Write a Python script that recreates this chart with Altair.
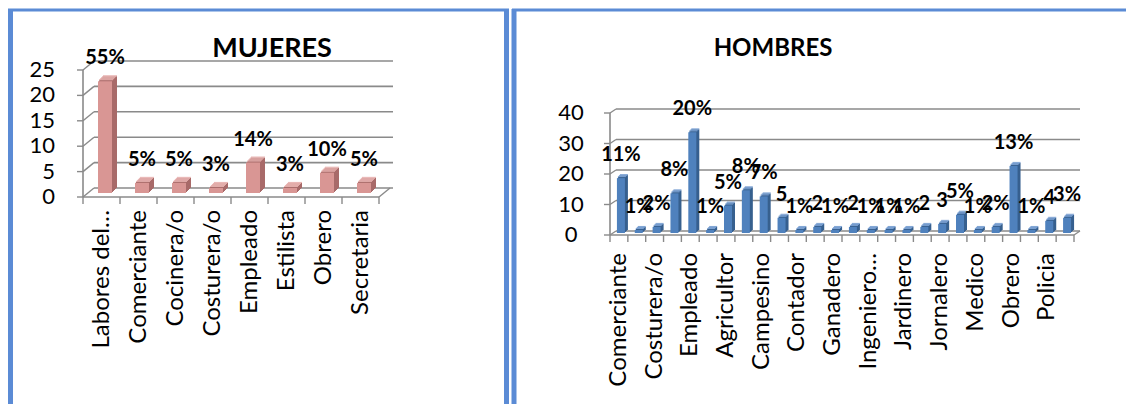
import altair as alt
import pandas as pd

# ---------------- data ----------------
titulos = ["MUJERES", "HOMBRES"]

cat_m = ["Labores del…", "Comerciante", "Cocinera/o", "Costurera/o",
         "Empleado", "Estilista", "Obrero", "Secretaria"]
val_m = [22, 2, 2, 1, 6, 1, 4, 2]
lab_m = ["55%", "5%", "5%", "3%", "14%", "3%", "10%", "5%"]
ticks_m = [0, 5, 10, 15, 20, 25]

cat_h = ["Comerciante", "Cocinero", "Costurera/o", "Docente", "Empleado", "Estilista",
         "Agricultor", "Albañil", "Campesino", "Conductor", "Contador", "Electricista",
         "Ganadero", "Guardia", "Ingeniero…", "Ingeniero civil", "Jardinero", "Jefe",
         "Jornalero", "Mecanico", "Medico", "Militar", "Obrero", "Pintor", "Policia", "Profesor"]
val_h = [18, 1, 2, 13, 33, 1, 9, 14, 12, 5, 1, 2, 1, 2, 1, 1, 1, 2, 3, 6, 1, 2, 22, 1, 4, 5]
lab_h = ["11%", "1%", "2%", "8%", "20%", "1%", "5%", "8%", "7%", "5", "1%", "2", "1%", "2",
         "1%", "1%", "1%", "2", "3", "5%", "1%", "2%", "13%", "1%", "4", "3%"]
ticks_h = [0, 10, 20, 30, 40]

FONT = "Lato"
GRID = "#8a8a8a"
BORDER = "#5b8bd5"


def panel(cats, vals, labs, ticks, xr, yr, ymax, geo):
    df = pd.DataFrame({"cat": cats, "val": vals, "lab": labs,
                       "idx": list(range(len(cats))), "z": [0] * len(cats)})
    dt = pd.DataFrame({"v": ticks, "z": [0] * len(ticks)})
    da = pd.DataFrame({"a": [0], "b": [ymax]})
    xs = alt.Scale(domain=cats, range=xr, paddingInner=0, paddingOuter=0)
    ys = alt.Scale(domain=[0, ymax], range=yr, nice=False)
    ax0, ax1 = xr
    dx, dy = geo["dx"], geo["dy"]
    layers = []
    # back wall gridlines
    layers.append(alt.Chart(dt).mark_rule(color=GRID, strokeWidth=1.6, yOffset=-dy).encode(
        y=alt.Y("v:Q", scale=ys, axis=None),
        x=alt.value(ax0 + dx), x2=alt.value(geo["back_right"])))
    # side wall diagonals
    layers.append(alt.Chart(dt).mark_rule(color=GRID, strokeWidth=1.4, y2Offset=-dy).encode(
        y=alt.Y("v:Q", scale=ys, axis=None), y2="v:Q",
        x=alt.value(ax0), x2=alt.value(ax0 + dx)))
    # floor right edge
    layers.append(alt.Chart(da).mark_rule(color=GRID, strokeWidth=1.4, y2Offset=-dy).encode(
        y=alt.Y("a:Q", scale=ys, axis=None), y2="a:Q",
        x=alt.value(ax1), x2=alt.value(ax1 + dx)))
    # front y axis line
    layers.append(alt.Chart(da).mark_rule(color=GRID, strokeWidth=1.6).encode(
        y=alt.Y("a:Q", scale=ys, axis=None), y2="b:Q", x=alt.value(ax0)))
    # front x axis line
    layers.append(alt.Chart(da).mark_rule(color=GRID, strokeWidth=1.6).encode(
        y=alt.Y("a:Q", scale=ys, axis=None), x=alt.value(ax0), x2=alt.value(ax1)))
    # y tick marks
    layers.append(alt.Chart(dt).mark_rule(color=GRID, strokeWidth=1.4).encode(
        y=alt.Y("v:Q", scale=ys, axis=None), x=alt.value(ax0 - 6), x2=alt.value(ax0)))
    # x tick marks
    layers.append(alt.Chart(df).mark_rule(color=GRID, strokeWidth=1.4, y2Offset=geo["tick"]).encode(
        x=alt.X("cat:N", scale=xs, axis=None, bandPosition=0),
        y=alt.Y("z:Q", scale=ys, axis=None), y2="z:Q"))
    layers.append(alt.Chart(df).transform_filter(f"datum.idx == {len(cats) - 1}").mark_rule(
        color=GRID, strokeWidth=1.4, y2Offset=geo["tick"]).encode(
        x=alt.X("cat:N", scale=xs, axis=None, bandPosition=1),
        y=alt.Y("z:Q", scale=ys, axis=None), y2="z:Q"))
    # 3D bars: side / top faces
    bx, by, bw, d = geo["bx"], geo["by"], geo["bw"], geo["d"]
    for k in range(d, 0, -1):
        layers.append(alt.Chart(df).mark_bar(
            width=bw, color=geo["side"], xOffset=bx + k, yOffset=by - k, y2Offset=by - k).encode(
            x=alt.X("cat:N", scale=xs, axis=None),
            y=alt.Y("val:Q", scale=ys, axis=None), y2="z:Q"))
        layers.append(alt.Chart(df).mark_bar(
            width=bw, color=geo["top"], xOffset=bx + k, yOffset=by - k - 1, y2Offset=by - k).encode(
            x=alt.X("cat:N", scale=xs, axis=None),
            y=alt.Y("val:Q", scale=ys, axis=None), y2="val:Q"))
    # front face
    layers.append(alt.Chart(df).mark_bar(
        width=bw, color=geo["front"], xOffset=bx, yOffset=by, y2Offset=by).encode(
        x=alt.X("cat:N", scale=xs, axis=None),
        y=alt.Y("val:Q", scale=ys, axis=None), y2="z:Q"))
    # data labels
    layers.append(alt.Chart(df).mark_text(
        font=FONT, fontSize=geo["dl"], fontWeight="bold", color="black",
        baseline="alphabetic", xOffset=bx, yOffset=by - 17).encode(
        x=alt.X("cat:N", scale=xs, axis=None),
        y=alt.Y("val:Q", scale=ys, axis=None), text="lab:N"))
    # y tick labels
    layers.append(alt.Chart(dt).mark_text(
        font=FONT, fontSize=geo["yl"], color="black", align=geo["yalign"],
        baseline="middle").encode(
        y=alt.Y("v:Q", scale=ys, axis=None), x=alt.value(geo["ylx"]), text="v:Q"))
    # category labels (every other one on the men's chart)
    layers.append(alt.Chart(df).transform_filter(f"datum.idx % {geo['every']} == 0").mark_text(
        font=FONT, fontSize=geo["xl"], color="black", angle=270, align="right",
        baseline="middle").encode(
        x=alt.X("cat:N", scale=xs, axis=None), y=alt.value(geo["xly"]), text="cat:N"))
    return layers


geo_m = dict(dx=11, dy=9, back_right=393, tick=7, bx=3.5, by=-4, bw=14, d=5,
             side="#a86a69", top="#e8b3b1", front="#d99694", dl=20, yl=22,
             yalign="right", ylx=55, xl=24, xly=210, every=1)
geo_h = dict(dx=6, dy=4, back_right=1080, tick=7, bx=2, by=-2, bw=8, d=3,
             side="#37608f", top="#7ea3d4", front="#4f81bd", dl=20, yl=22,
             yalign="center", ylx=571, xl=24, xly=253, every=2)

layers = []
layers += panel(cat_m, val_m, lab_m, ticks_m, [83, 379], [197, 70], 25, geo_m)
layers += panel(cat_h, val_h, lab_h, ticks_h, [610, 1074], [235, 113], 40, geo_h)

# titles
dtit = pd.DataFrame({"t": titulos, "x": [272, 773], "s": [27, 24]})
for i, t in enumerate(titulos):
    layers.append(alt.Chart(dtit).transform_filter(f"datum.t == '{t}'").mark_text(
        font=FONT, fontSize=int(dtit.s[i]), fontWeight="bold", color="black",
        baseline="middle", align="center").encode(
        x=alt.value(int(dtit.x[i])), y=alt.value(49), text="t:N"))

# panel borders
dz = pd.DataFrame({"z": [0]})
borders = [
    dict(x=10.5, y=9, y2=404, w=5),
    dict(x=506.5, y=9, y2=404, w=5),
    dict(x=514, y=9, y2=404, w=5),
]
for b in borders:
    layers.append(alt.Chart(dz).mark_rule(color=BORDER, strokeWidth=b["w"]).encode(
        x=alt.value(b["x"]), y=alt.value(b["y"]), y2=alt.value(b["y2"])))
for (x0, x1) in [(8, 509), (512, 1126)]:
    layers.append(alt.Chart(dz).mark_rule(color=BORDER, strokeWidth=3).encode(
        y=alt.value(10), x=alt.value(x0), x2=alt.value(x1)))

chart = alt.layer(*layers).resolve_scale(x="independent", y="independent").properties(
    width=1126, height=404, padding=0,
    autosize=alt.AutoSizeParams(type="none"),
    background="white",
).configure_view(stroke=None)

chart.save("out.html", embed_options={"renderer": "svg", "actions": False})
